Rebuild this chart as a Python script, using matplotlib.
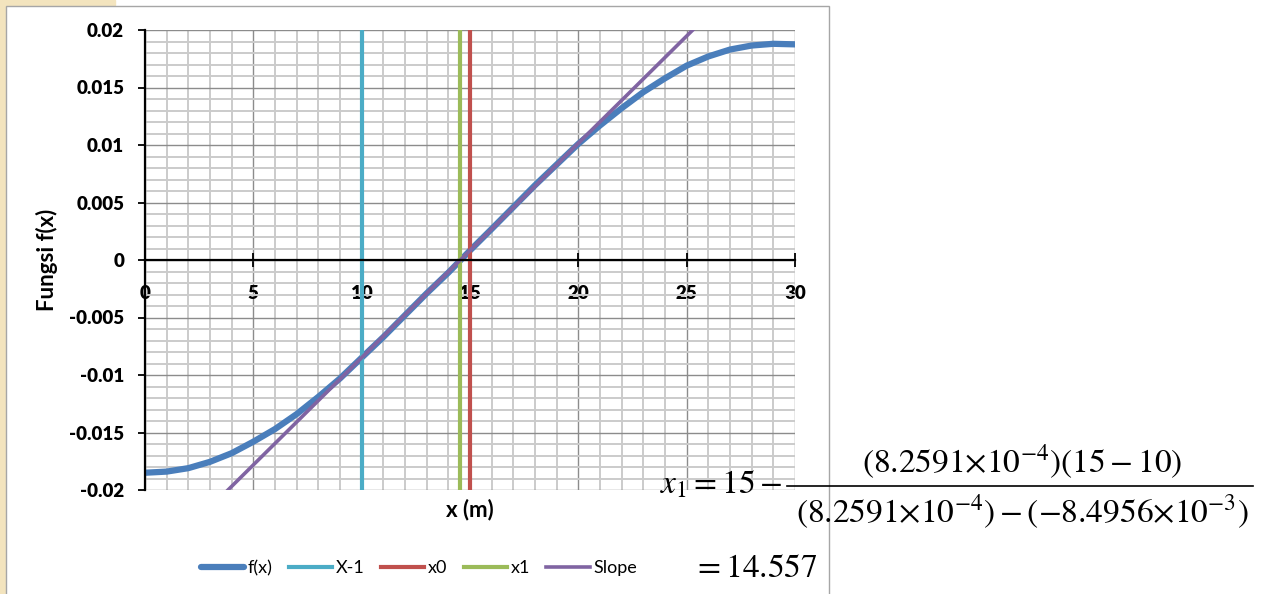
import matplotlib
matplotlib.use('Agg')
import matplotlib.pyplot as plt
from matplotlib.patches import Rectangle
from matplotlib.lines import Line2D
from matplotlib.ticker import MultipleLocator

plt.rcParams['font.family'] = ['Lato', 'DejaVu Sans']
plt.rcParams['axes.unicode_minus'] = False
plt.rcParams['mathtext.fontset'] = 'stix'

# f(x) at every metre
x_vals = list(range(31))
fx_vals = [-0.0185, -0.0184, -0.0181, -0.01755, -0.0168, -0.0158, -0.0147, -0.0134,
           -0.0119, -0.0103, -0.0084956, -0.0067, -0.0048, -0.0029, -0.0011, 0.00082591,
           0.0027, 0.0046, 0.0065, 0.0083, 0.0101, 0.0117, 0.0132, 0.0146, 0.0158,
           0.0169, 0.0177, 0.0183, 0.01865, 0.0188, 0.01875]

# secant iterations
x_prev = 10
x_zero = 15
x_one = 14.557
vline_y = [-0.02, 0.02]

# secant line (slope) end points
slope_x = [3.83, 25.28]
slope_y = [-0.02, 0.02]

x_ticks = [0, 5, 10, 15, 20, 25, 30]
x_tick_labels = ['0', '5', '10', '15', '20', '25', '30']
y_ticks = [-0.02, -0.015, -0.01, -0.005, 0, 0.005, 0.01, 0.015, 0.02]
y_tick_labels = ['-0.02', '-0.015', '-0.01', '-0.005', '0', '0.005', '0.01', '0.015', '0.02']

W, H = 1264, 594
fig = plt.figure(figsize=(W / 100, H / 100), dpi=100)

# slide background bits + chart frame
fig.patches.append(Rectangle((0, 0), 5 / W, 1, transform=fig.transFigure, color='#F3E4BE', zorder=-2))
fig.patches.append(Rectangle((0, 1 - 5 / H), 115 / W, 5 / H, transform=fig.transFigure, color='#F3E4BE', zorder=-2))
fig.patches.append(Rectangle((6 / W, -0.02), 823 / W, 1 - 6 / H + 0.02, transform=fig.transFigure,
                             facecolor='white', edgecolor='#A6A6A6', lw=1, zorder=-1))

ax = fig.add_axes([145 / W, 104 / H, 650 / W, 460 / H])
ax.set_facecolor('none')

l_fx, = ax.plot(x_vals, fx_vals, color='#4A7EBB', lw=4.5, solid_capstyle='round',
                solid_joinstyle='round', label='f(x)')
l_xm1, = ax.plot([x_prev, x_prev], vline_y, color='#4BACC6', lw=3, label='X-1')
l_x0, = ax.plot([x_zero, x_zero], vline_y, color='#C0504D', lw=3, label='x0')
l_x1, = ax.plot([x_one, x_one], vline_y, color='#9BBB59', lw=3, label='x1')
l_sl, = ax.plot(slope_x, slope_y, color='#8064A2', lw=2.6, label='Slope')

ax.set_xlim(0, 30)
ax.set_ylim(-0.02, 0.02)
ax.xaxis.set_minor_locator(MultipleLocator(1))
ax.yaxis.set_minor_locator(MultipleLocator(0.001))
ax.set_xticks(x_ticks)
ax.set_xticklabels(x_tick_labels)
ax.set_yticks(y_ticks)
ax.set_yticklabels(y_tick_labels)

ax.grid(which='major', color='#8C8C8C', lw=1)
ax.grid(which='minor', color='#CBCBCB', lw=1.4)
ax.set_axisbelow(True)

for s in ['top', 'right']:
    ax.spines[s].set_visible(False)
ax.spines['bottom'].set_position(('data', 0))
ax.spines['bottom'].set_linewidth(1.6)
ax.spines['left'].set_linewidth(1.6)

ax.tick_params(axis='x', which='major', direction='inout', length=9.5, width=1.3, pad=13, labelsize=13.5)
ax.tick_params(axis='y', which='major', direction='out', length=5, width=1.3, pad=10, labelsize=13.5)
ax.tick_params(which='minor', length=0)
for lbl in ax.get_xticklabels() + ax.get_yticklabels():
    lbl.set_fontweight('heavy')

fig.text(47 / W, 1 - 260 / H, 'Fungsi f(x)', rotation=90, fontsize=16, fontweight='bold',
         ha='center', va='center')
fig.text(470 / W, 1 - 510 / H, 'x (m)', fontsize=16, fontweight='bold', ha='center', va='center')

fig.legend([l_fx, l_xm1, l_x0, l_x1, l_sl], ['f(x)', 'X-1', 'x0', 'x1', 'Slope'],
           loc='center', bbox_to_anchor=(419 / W, 26 / H), ncol=5, frameon=False, fontsize=13,
           handlelength=2.4, handletextpad=0.2, columnspacing=0.9)

# secant formula
fig.text(660 / W, 1 - 493 / H, r'$x_1 = 15 -$', fontsize=24, ha='left', va='baseline')
fig.text(1022 / W, 1 - 473 / H, r'$\left(8.2591{\times}10^{-4}\right)\left(15-10\right)$',
         fontsize=24, ha='center', va='baseline')
fig.lines.append(Line2D([787 / W, 1253 / W], [1 - 486 / H, 1 - 486 / H], transform=fig.transFigure,
                        color='black', lw=1.2))
fig.text(1022 / W, 1 - 523 / H, r'$\left(8.2591{\times}10^{-4}\right)-\left(-8.4956{\times}10^{-3}\right)$',
         fontsize=24, ha='center', va='baseline')
fig.text(693 / W, 1 - 577 / H, r'$=14.557$', fontsize=24, ha='left', va='baseline')

fig.savefig('out.png', dpi=100)
